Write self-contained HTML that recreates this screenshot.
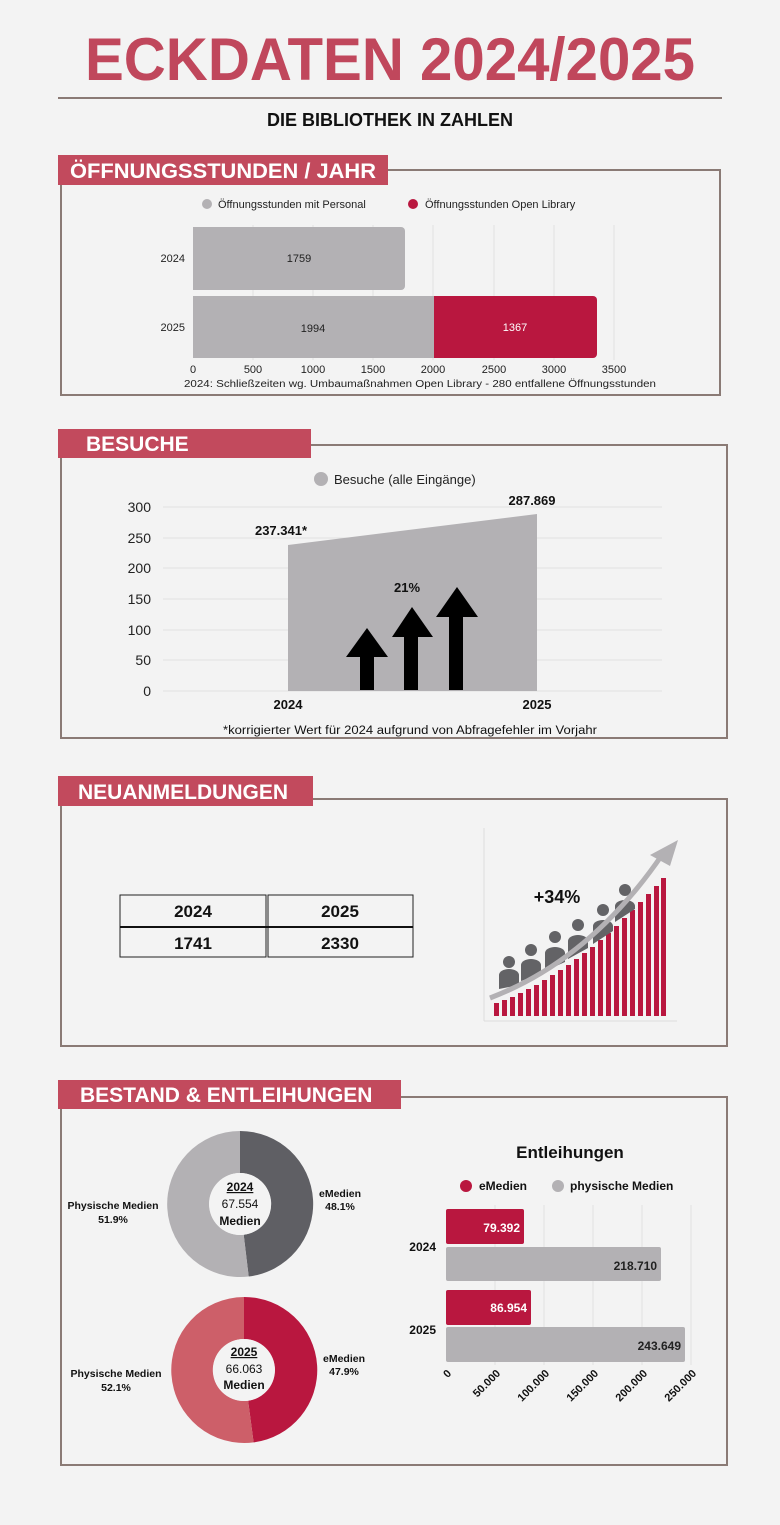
<!DOCTYPE html>
<html><head><meta charset="utf-8"><style>
html,body{margin:0;padding:0;background:#f3f3f3;}
svg{display:block;font-family:"Liberation Sans","DejaVu Sans",sans-serif;}
</style></head><body>
<svg width="780" height="1525" viewBox="0 0 780 1525" xmlns="http://www.w3.org/2000/svg">
<rect width="780" height="1525" fill="#f3f3f3"/>
<text x="390" y="80" text-anchor="middle" font-size="60" font-weight="bold" fill="#c0475c" textLength="610" lengthAdjust="spacingAndGlyphs">ECKDATEN 2024/2025</text>
<line x1="58" y1="98" x2="722" y2="98" stroke="#8a7a75" stroke-width="2"/>
<text x="390" y="126" text-anchor="middle" font-size="18" font-weight="bold" fill="#111">DIE BIBLIOTHEK IN ZAHLEN</text>

<!-- Section 1 -->
<rect x="61" y="170" width="659" height="225" fill="none" stroke="#8a7a75" stroke-width="2"/>
<rect x="58" y="155" width="330" height="30" fill="#c24a5d"/>
<text x="70" y="178" font-size="21" font-weight="bold" fill="#fff" textLength="306" lengthAdjust="spacingAndGlyphs">ÖFFNUNGSSTUNDEN / JAHR</text>
<circle cx="207" cy="204" r="5" fill="#b3b1b4"/>
<text x="218" y="208" font-size="11" fill="#222">Öffnungsstunden mit Personal</text>
<circle cx="413" cy="204" r="5" fill="#b9173f"/>
<text x="425" y="208" font-size="11" fill="#222">Öffnungsstunden Open Library</text>
<g stroke="#e2e2e2" stroke-width="1">
<line x1="253" y1="225" x2="253" y2="360"/><line x1="313" y1="225" x2="313" y2="360"/><line x1="373" y1="225" x2="373" y2="360"/><line x1="433" y1="225" x2="433" y2="360"/><line x1="494" y1="225" x2="494" y2="360"/><line x1="554" y1="225" x2="554" y2="360"/><line x1="614" y1="225" x2="614" y2="360"/>
</g>
<path d="M193 227 H401 a4 4 0 0 1 4 4 V286 a4 4 0 0 1 -4 4 H193Z" fill="#b3b1b4"/>
<rect x="193" y="296" width="241" height="62" fill="#b3b1b4"/>
<path d="M434 296 H593 a4 4 0 0 1 4 4 V354 a4 4 0 0 1 -4 4 H434Z" fill="#b9173f"/>
<text x="299" y="262" text-anchor="middle" font-size="11" fill="#222">1759</text>
<text x="313" y="332" text-anchor="middle" font-size="11" fill="#222">1994</text>
<text x="515" y="331" text-anchor="middle" font-size="11" fill="#fff">1367</text>
<text x="185" y="262" text-anchor="end" font-size="11" fill="#222">2024</text>
<text x="185" y="331" text-anchor="end" font-size="11" fill="#222">2025</text>
<g font-size="11" fill="#222" text-anchor="middle">
<text x="193" y="373">0</text><text x="253" y="373">500</text><text x="313" y="373">1000</text><text x="373" y="373">1500</text><text x="433" y="373">2000</text><text x="494" y="373">2500</text><text x="554" y="373">3000</text><text x="614" y="373">3500</text>
</g>
<text x="420" y="387" text-anchor="middle" font-size="10" fill="#222" textLength="472" lengthAdjust="spacingAndGlyphs">2024: Schließzeiten wg. Umbaumaßnahmen Open Library - 280 entfallene Öffnungsstunden</text>

<!-- Section 2 -->
<rect x="61" y="445" width="666" height="293" fill="none" stroke="#8a7a75" stroke-width="2"/>
<rect x="58" y="429" width="253" height="29" fill="#c24a5d"/>
<text x="86" y="451" font-size="21" font-weight="bold" fill="#fff">BESUCHE</text>
<circle cx="321" cy="479" r="7" fill="#b3b1b4"/>
<text x="334" y="484" font-size="13" fill="#222">Besuche (alle Eingänge)</text>
<g stroke="#e2e2e2" stroke-width="1">
<line x1="163" y1="507" x2="662" y2="507"/><line x1="163" y1="538" x2="662" y2="538"/><line x1="163" y1="568" x2="662" y2="568"/><line x1="163" y1="599" x2="662" y2="599"/><line x1="163" y1="630" x2="662" y2="630"/><line x1="163" y1="660" x2="662" y2="660"/><line x1="163" y1="691" x2="662" y2="691"/>
</g>
<g font-size="14" fill="#222" text-anchor="end">
<text x="151" y="512">300</text><text x="151" y="543">250</text><text x="151" y="573">200</text><text x="151" y="604">150</text><text x="151" y="635">100</text><text x="151" y="665">50</text><text x="151" y="696">0</text>
</g>
<polygon points="288,545 537,514 537,691 288,691" fill="#b3b1b4"/>
<text x="281" y="535" text-anchor="middle" font-size="13" font-weight="bold" fill="#111">237.341*</text>
<text x="532" y="505" text-anchor="middle" font-size="13" font-weight="bold" fill="#111">287.869</text>
<text x="288" y="709" text-anchor="middle" font-size="13" font-weight="bold" fill="#111">2024</text>
<text x="537" y="709" text-anchor="middle" font-size="13" font-weight="bold" fill="#111">2025</text>
<text x="407" y="592" text-anchor="middle" font-size="13" font-weight="bold" fill="#111">21%</text>
<polygon points="360,690 374,690 374,657 388,657 367,628 346,657 360,657" fill="#000"/>
<polygon points="404,690 418,690 418,637 433,637 412,607 392,637 404,637" fill="#000"/>
<polygon points="449,690 463,690 463,617 478,617 457,587 436,617 449,617" fill="#000"/>
<text x="410" y="734" text-anchor="middle" font-size="11.5" fill="#111" textLength="374" lengthAdjust="spacingAndGlyphs">*korrigierter Wert für 2024 aufgrund von Abfragefehler im Vorjahr</text>

<!-- Section 3 -->
<rect x="61" y="799" width="666" height="247" fill="none" stroke="#8a7a75" stroke-width="2"/>
<rect x="58" y="776" width="255" height="30" fill="#c24a5d"/>
<text x="78" y="799" font-size="21" font-weight="bold" fill="#fff">NEUANMELDUNGEN</text>
<rect x="120" y="895" width="146" height="62" fill="none" stroke="#222" stroke-width="1"/>
<rect x="268" y="895" width="145" height="62" fill="none" stroke="#222" stroke-width="1"/>
<line x1="120" y1="927" x2="413" y2="927" stroke="#111" stroke-width="2"/>
<text x="193" y="917" text-anchor="middle" font-size="17" font-weight="bold" fill="#111">2024</text>
<text x="340" y="917" text-anchor="middle" font-size="17" font-weight="bold" fill="#111">2025</text>
<text x="193" y="949" text-anchor="middle" font-size="17" font-weight="bold" fill="#111">1741</text>
<text x="340" y="949" text-anchor="middle" font-size="17" font-weight="bold" fill="#111">2330</text>
<line x1="484" y1="828" x2="484" y2="1021" stroke="#ddd"/>
<line x1="484" y1="1021" x2="677" y2="1021" stroke="#ddd"/>
<g fill="#b9173f">
<rect x="494" y="1003" width="5" height="13"/><rect x="502" y="1000" width="5" height="16"/><rect x="510" y="997" width="5" height="19"/><rect x="518" y="993" width="5" height="23"/><rect x="526" y="989" width="5" height="27"/><rect x="534" y="985" width="5" height="31"/><rect x="542" y="980" width="5" height="36"/><rect x="550" y="975" width="5" height="41"/><rect x="558" y="970" width="5" height="46"/><rect x="566" y="965" width="5" height="51"/><rect x="574" y="959" width="5" height="57"/><rect x="582" y="953" width="5" height="63"/><rect x="590" y="947" width="5" height="69"/><rect x="598" y="940" width="5" height="76"/><rect x="606" y="933" width="5" height="83"/><rect x="614" y="926" width="5" height="90"/><rect x="622" y="918" width="5" height="98"/><rect x="630" y="910" width="5" height="106"/><rect x="638" y="902" width="5" height="114"/><rect x="646" y="894" width="5" height="122"/><rect x="654" y="886" width="5" height="130"/><rect x="661" y="878" width="5" height="138"/>
</g>
<g fill="#636366">
<circle cx="509" cy="962" r="6"/><path d="M499 989 v-14 a10 6 0 0 1 20 0 v10 z"/>
<circle cx="531" cy="950" r="6"/><path d="M521 981 v-16 a10 6 0 0 1 20 0 v9 z"/>
<circle cx="555" cy="937" r="6"/><path d="M545 971 v-18 a10 6 0 0 1 20 0 v9 z"/>
<circle cx="578" cy="925" r="6"/><path d="M568 959 v-18 a10 6 0 0 1 20 0 v7 z"/>
<circle cx="603" cy="910" r="6"/><path d="M593 944 v-18 a10 6 0 0 1 20 0 v5 z"/>
<circle cx="625" cy="890" r="6"/><path d="M615 922 v-16 a10 6 0 0 1 20 0 v3 z"/>
</g>
<path d="M490 998 Q590 960 662 855" fill="none" stroke="#b3b1b4" stroke-width="5"/>
<polygon points="678,840 650,855 670,866" fill="#b3b1b4"/>
<text x="557" y="903" text-anchor="middle" font-size="18" font-weight="bold" fill="#111">+34%</text>

<!-- Section 4 -->
<rect x="61" y="1097" width="666" height="368" fill="none" stroke="#8a7a75" stroke-width="2"/>
<rect x="58" y="1080" width="343" height="29" fill="#c24a5d"/>
<text x="80" y="1102" font-size="21" font-weight="bold" fill="#fff">BESTAND &amp; ENTLEIHUNGEN</text>
<g transform="translate(240,1204)">
<path d="M0 -73 A73 73 0 0 1 8.7 72.5 L3.7 30.8 A31 31 0 0 0 0 -31 Z" fill="#5f5f64"/>
<path d="M0 -73 A73 73 0 1 0 8.7 72.5 L3.7 30.8 A31 31 0 1 1 0 -31 Z" fill="#b3b1b4"/>
<circle r="31" fill="#f3f3f3"/>
</g>
<text x="240" y="1191" text-anchor="middle" font-size="12" font-weight="bold" fill="#111" text-decoration="underline">2024</text>
<text x="240" y="1208" text-anchor="middle" font-size="12" fill="#111">67.554</text>
<text x="240" y="1225" text-anchor="middle" font-size="12" font-weight="bold" fill="#111">Medien</text>
<text x="113" y="1209" text-anchor="middle" font-size="10.5" font-weight="bold" fill="#111">Physische Medien</text>
<text x="113" y="1223" text-anchor="middle" font-size="10.5" font-weight="bold" fill="#111">51.9%</text>
<text x="340" y="1197" text-anchor="middle" font-size="10.5" font-weight="bold" fill="#111">eMedien</text>
<text x="340" y="1210" text-anchor="middle" font-size="10.5" font-weight="bold" fill="#111">48.1%</text>
<g transform="translate(244,1370)">
<path d="M0 -73 A73 73 0 0 1 9.6 72.4 L4.1 30.7 A31 31 0 0 0 0 -31 Z" fill="#b9173f"/>
<path d="M0 -73 A73 73 0 1 0 9.6 72.4 L4.1 30.7 A31 31 0 1 1 0 -31 Z" fill="#cd5f69"/>
<circle r="31" fill="#f3f3f3"/>
</g>
<text x="244" y="1356" text-anchor="middle" font-size="12" font-weight="bold" fill="#111" text-decoration="underline">2025</text>
<text x="244" y="1373" text-anchor="middle" font-size="12" fill="#111">66.063</text>
<text x="244" y="1389" text-anchor="middle" font-size="12" font-weight="bold" fill="#111">Medien</text>
<text x="116" y="1377" text-anchor="middle" font-size="10.5" font-weight="bold" fill="#111">Physische Medien</text>
<text x="116" y="1391" text-anchor="middle" font-size="10.5" font-weight="bold" fill="#111">52.1%</text>
<text x="344" y="1362" text-anchor="middle" font-size="10.5" font-weight="bold" fill="#111">eMedien</text>
<text x="344" y="1375" text-anchor="middle" font-size="10.5" font-weight="bold" fill="#111">47.9%</text>
<text x="570" y="1158" text-anchor="middle" font-size="17" font-weight="bold" fill="#111">Entleihungen</text>
<circle cx="466" cy="1186" r="6" fill="#b9173f"/>
<text x="479" y="1190" font-size="12" font-weight="bold" fill="#111">eMedien</text>
<circle cx="558" cy="1186" r="6" fill="#b3b1b4"/>
<text x="570" y="1190" font-size="12" font-weight="bold" fill="#111">physische Medien</text>
<g stroke="#e2e2e2"><line x1="495" y1="1205" x2="495" y2="1365"/><line x1="544" y1="1205" x2="544" y2="1365"/><line x1="593" y1="1205" x2="593" y2="1365"/><line x1="642" y1="1205" x2="642" y2="1365"/><line x1="691" y1="1205" x2="691" y2="1365"/></g>
<rect x="446" y="1209" width="78" height="35" rx="2" fill="#b9173f"/>
<rect x="446" y="1247" width="215" height="34" rx="2" fill="#b3b1b4"/>
<rect x="446" y="1290" width="85" height="35" rx="2" fill="#b9173f"/>
<rect x="446" y="1327" width="239" height="35" rx="2" fill="#b3b1b4"/>
<g font-size="12" font-weight="bold" text-anchor="end">
<text x="520" y="1232" fill="#fff">79.392</text>
<text x="657" y="1270" fill="#222">218.710</text>
<text x="527" y="1312" fill="#fff">86.954</text>
<text x="681" y="1350" fill="#222">243.649</text>
<text x="436" y="1251" fill="#111">2024</text>
<text x="436" y="1334" fill="#111">2025</text>
</g>
<g font-size="11" font-weight="bold" fill="#111" text-anchor="end">
<text transform="translate(452,1374) rotate(-45)">0</text>
<text transform="translate(501,1374) rotate(-45)">50.000</text>
<text transform="translate(550,1374) rotate(-45)">100.000</text>
<text transform="translate(599,1374) rotate(-45)">150.000</text>
<text transform="translate(648,1374) rotate(-45)">200.000</text>
<text transform="translate(697,1374) rotate(-45)">250.000</text>
</g>
</svg>
</body></html>
